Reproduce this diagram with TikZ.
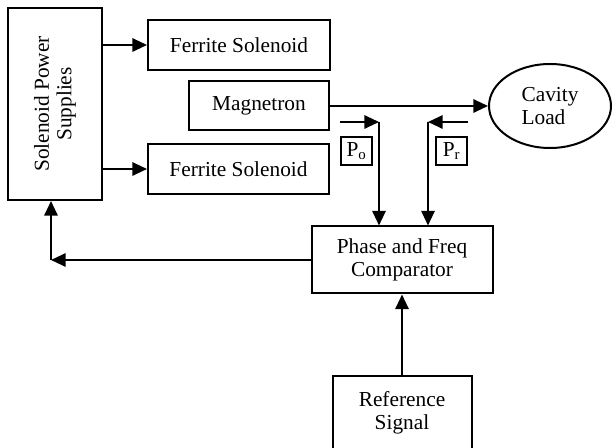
\documentclass[tikz,border=0pt]{standalone}
\usepackage{fontspec}
\setmainfont{Liberation Serif}
\usetikzlibrary{positioning, calc, arrows.meta, shapes.geometric}
\tikzset{>={Triangle[length=11pt, width=10pt]}}

\begin{document}
\begin{tikzpicture}
    [
        x=0.75pt, y=-0.75pt, line width=1.5pt,
        font=\fontsize{16}{17}\selectfont,
        block/.style={rectangle, draw=black, inner sep=0pt, align=center},
        pbox/.style={rectangle, draw=black, line width=1.1pt, inner sep=0pt, minimum width=23.25pt, minimum height=21pt},
    ]
  \useasboundingbox (0,0) rectangle (613,448);

  \node[block, minimum width=70.5pt, minimum height=144pt] (sps) at (55,104) {};
  \node[rotate=90, align=center] (spstext) at (sps) {Solenoid Power\\Supplies};
  \node[block, minimum width=136.5pt, minimum height=37.5pt] (fs1) at (239,45) {Ferrite Solenoid};
  \node[block, minimum width=105pt, minimum height=36.75pt] (mag) at (259,106) {Magnetron};
  \node[block, minimum width=135.75pt, minimum height=37.5pt] (fs2) at (238.5,169) {Ferrite Solenoid};
  \node[ellipse, draw=black, inner sep=0pt, minimum width=91.5pt, minimum height=63pt, align=left] (cav) at (550,106) {Cavity\\Load};
  \node[block, minimum width=135.75pt, minimum height=50.25pt] (comp) at (402,260) {Phase and Freq\\Comparator};
  \node[block, minimum width=104.25pt, minimum height=55.5pt] (ref) at (402,413) {Reference\\Signal};
  \node[pbox] (po) at (356.5,151) {P\textsubscript{o}};
  \node[pbox] (pr) at (451.5,151) {P\textsubscript{r}};

  \coordinate (pofrom) at (340,122);
  \coordinate (poin) at (379,122);
  \coordinate (prfrom) at (468,122);
  \coordinate (prin) at (428,122);
  \coordinate (fb) at (51,260);

  \draw[->] (sps.east |- fs1.west) -- (fs1.west);
  \draw[->] (sps.east |- fs2.west) -- (fs2.west);
  \draw[->] (mag.east) -- (cav.west);
  \draw[->] (pofrom) -- (poin);
  \draw[->] (poin) -- (poin |- comp.north);
  \draw[->] (prfrom) -- (prin);
  \draw[->] (prin) -- (prin |- comp.north);
  \draw[->] (comp.west) -- (fb);
  \draw[->] (fb) -- (fb |- sps.south);
  \draw[->] (ref.north) -- (comp.south);
\end{tikzpicture}
\end{document}
